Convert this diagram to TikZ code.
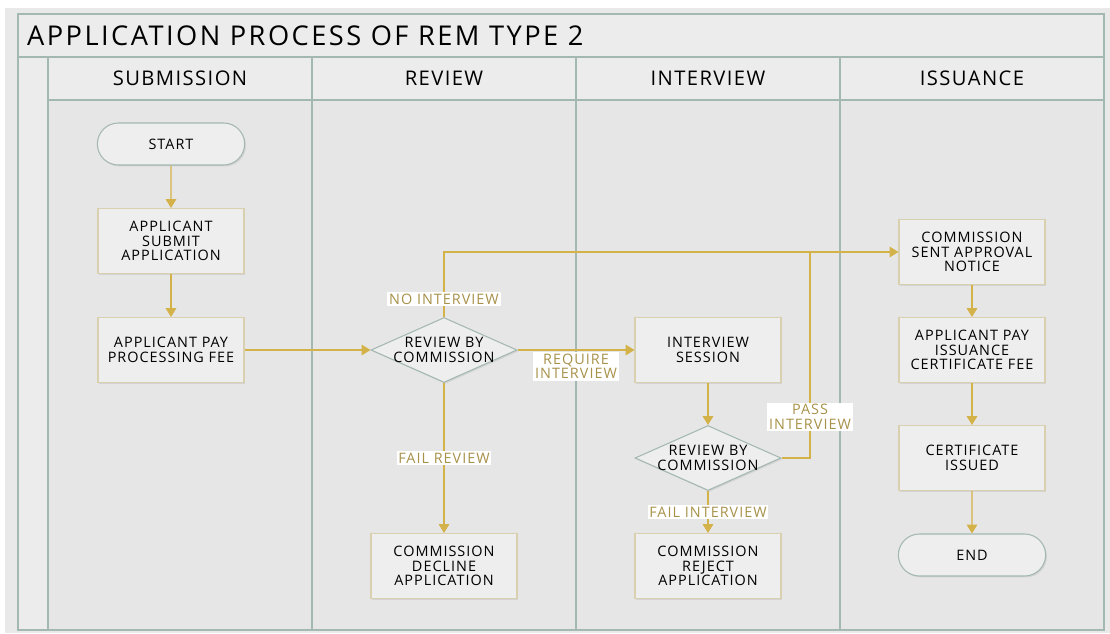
\documentclass[tikz,border=0pt]{standalone}
\usepackage{fontspec}
\setmainfont{Open Sans}
\newfontfamily\spaced[LetterSpace=7]{Open Sans}
\newfontfamily\titlefont[LetterSpace=9]{Open Sans}
\usetikzlibrary{shapes.geometric,shapes.misc,arrows.meta,shadows}

\definecolor{lanefill}{HTML}{E6E6E6}
\definecolor{headfill}{HTML}{ECECEC}
\definecolor{outerfill}{HTML}{E9E9E9}
\definecolor{laneline}{HTML}{A3B8B1}
\definecolor{boxline}{HTML}{D8D0AE}
\definecolor{nodefill}{HTML}{EEEEEE}
\definecolor{flowcol}{HTML}{D4B24A}
\definecolor{lblcol}{HTML}{A8924A}

\tikzset{
  lane/.style={draw=laneline, line width=0.8pt},
  lanehead/.style={font=\spaced\fontsize{11.5}{12}\selectfont},
  procbox/.style={rectangle, draw=boxline, line width=0.6pt, fill=nodefill,
    minimum width=2.92cm, minimum height=1.3cm, align=center,
    font=\spaced\fontsize{8.2}{8.2}\selectfont,
    drop shadow={opacity=0.18, shadow xshift=0.8pt, shadow yshift=-0.8pt}},
  termbox/.style={rounded rectangle, draw=laneline, line width=0.6pt, fill=nodefill,
    minimum width=3.18cm, minimum height=0.84cm, align=center,
    font=\spaced\fontsize{8.2}{8.2}\selectfont,
    drop shadow={opacity=0.18, shadow xshift=0.8pt, shadow yshift=-0.8pt}},
  decbox/.style={diamond, draw=laneline, line width=0.6pt, fill=nodefill,
    aspect=2.25, inner sep=-1.5pt, minimum width=2.92cm, minimum height=1.3cm,
    align=center, font=\spaced\fontsize{8.2}{8.2}\selectfont,
    drop shadow={opacity=0.18, shadow xshift=0.8pt, shadow yshift=-0.8pt}},
  flow/.style={draw=flowcol, line width=0.6pt, -{Triangle[length=5pt,width=6pt]}},
  link/.style={draw=flowcol, line width=0.6pt},
  lbl/.style={fill=white, text=lblcol, inner sep=1pt, align=center,
    font=\spaced\fontsize{8.2}{8.2}\selectfont},
}

\begin{document}
\begin{tikzpicture}[x=0.02cm, y=-0.02cm]
  % page and frame
  \fill[white] (0,0) rectangle (1110,633);
  \fill[outerfill] (5,8) rectangle (1110,633);
  \fill[headfill] (18,14) rectangle (1104,100);
  \fill[headfill] (18,100) rectangle (48,630);
  \fill[lanefill] (48,100) rectangle (1104,630);
  \draw[lane] (18,14) rectangle (1104,630);
  \draw[lane] (18,57) -- (1104,57);
  \draw[lane] (48,100) -- (1104,100);
  \draw[lane] (48,57) -- (48,630);
  \foreach \x in {312,576,840}
    \draw[lane] (\x,57) -- (\x,630);

  % titles
  \node[anchor=west, font=\titlefont\fontsize{15.5}{16}\selectfont] (title) at (21,36)
    {APPLICATION PROCESS OF REM TYPE 2};
  \node[lanehead] (h1) at (180,78) {SUBMISSION};
  \node[lanehead] (h2) at (444,78) {REVIEW};
  \node[lanehead] (h3) at (708,78) {INTERVIEW};
  \node[lanehead] (h4) at (972,78) {ISSUANCE};

  % submission
  \node[termbox] (start) at (171,144) {START};
  \node[procbox] (submit) at (171,241) {APPLICANT\\SUBMIT\\APPLICATION};
  \node[procbox] (payfee) at (171,350) {APPLICANT PAY\\PROCESSING FEE};

  % review
  \node[decbox] (review) at (444,350) {REVIEW BY\\COMMISSION};
  \node[procbox] (decline) at (444,566) {COMMISSION\\DECLINE\\APPLICATION};

  % interview
  \node[procbox] (session) at (708,350) {INTERVIEW\\SESSION};
  \node[decbox] (recheck) at (708,458) {REVIEW BY\\COMMISSION};
  \node[procbox] (reject) at (708,566) {COMMISSION\\REJECT\\APPLICATION};

  % issuance
  \node[procbox] (notice) at (972,252) {COMMISSION\\SENT APPROVAL\\NOTICE};
  \node[procbox] (payissue) at (972,350) {APPLICANT PAY\\ISSUANCE\\CERTIFICATE FEE};
  \node[procbox] (issued) at (972,458) {CERTIFICATE\\ISSUED};
  \node[termbox] (finish) at (972,555) {END};

  \coordinate (join) at (810,252);

  % connectors
  \begin{scope}
    \draw[flow] (start) -- (submit);
    \draw[flow] (submit) -- (payfee);
    \draw[flow] (payfee) -- (review);
    \draw[flow] (review) -- node[lbl, below=1pt, midway] {REQUIRE\\INTERVIEW} (session);
    \draw[flow] (review.north) -- node[lbl, pos=0.27] {NO INTERVIEW}
      (review.north |- notice.west) -- (notice.west);
    \draw[flow] (review) -- node[lbl, midway] {FAIL REVIEW} (decline);
    \draw[flow] (session) -- (recheck);
    \draw[link] (recheck.east) -| node[lbl, pos=0.6] {PASS\\INTERVIEW} (join);
    \draw[flow] (recheck) -- node[lbl, midway] {FAIL INTERVIEW} (reject);
    \draw[flow] (notice) -- (payissue);
    \draw[flow] (payissue) -- (issued);
    \draw[flow] (issued) -- (finish);
  \end{scope}
\end{tikzpicture}
\end{document}
